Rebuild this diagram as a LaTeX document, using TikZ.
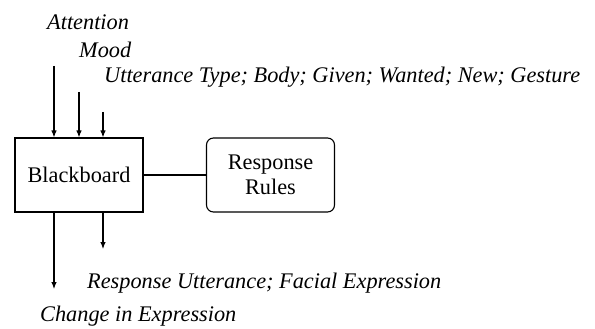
\documentclass[tikz,border=0pt]{standalone}
\usepackage{fontspec}
\setmainfont{Liberation Serif}
\usetikzlibrary{arrows.meta}
\begin{document}
\begin{tikzpicture}[x=1pt,y=-1pt]
    \tikzset{% styles for boxes, labels and arrows
    unit/.style={rectangle,draw,line width=1.1pt,minimum width=128pt,minimum height=74pt,inner sep=0pt,font=\fontsize{22.3}{25}\selectfont},
    rules/.style={unit,rounded corners=7pt,align=center},
    lbl/.style={anchor=west,inner sep=0pt,font=\fontsize{22.3}{25}\selectfont\itshape},
    flow/.style={-{Latex[length=7pt,width=5.5pt]},line width=1.1pt},
    c1/.style={-,line width=1.1pt},
    }
    \useasboundingbox (0,0) rectangle (595,329);
    % Nodes
    \node[unit] (board) at (79,175) {Blackboard};
    \node[rules] (rules) at (270.5,175) {Response\\Rules};

    \node[lbl] (attention) at (47,22) {Attention};
    \node[lbl] (mood) at (79,50) {Mood};
    \node[lbl] (utterance) at (104,77) {Utterance Type; Body; Given; Wanted; New; Gesture};
    \node[lbl] (response) at (87,283) {Response Utterance; Facial Expression};
    \node[lbl] (change) at (40,316) {Change in Expression};

    \coordinate (in1) at (54,66);
    \coordinate (in2) at (79,92);
    \coordinate (in3) at (103,112);
    \coordinate (out1) at (54,289);
    \coordinate (out2) at (103,249);

    %Edges
    \draw[flow] (in1) -- (in1 |- board.north);
    \draw[flow] (in2) -- (in2 |- board.north);
    \draw[flow] (in3) -- (in3 |- board.north);
    \draw[flow] (out1 |- board.south) -- (out1);
    \draw[flow] (out2 |- board.south) -- (out2);
    \draw[c1] (board) -- (rules);
\end{tikzpicture}
\end{document}
